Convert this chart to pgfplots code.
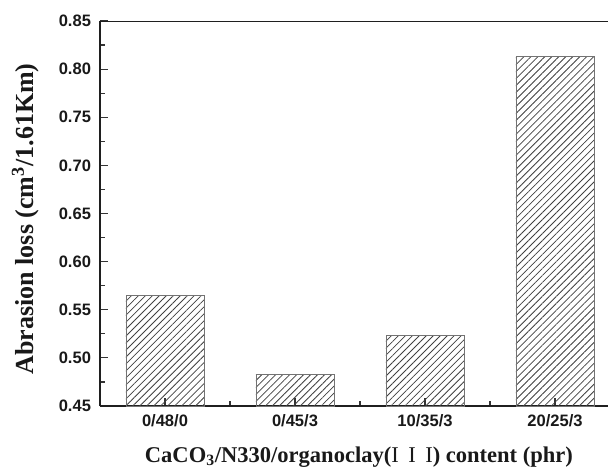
\documentclass[border=0pt]{standalone}
\usepackage{fontspec}
\setmainfont{Liberation Serif}
\setsansfont{Liberation Sans}
\usepackage{pgfplots}
\pgfplotsset{compat=1.18}
\usetikzlibrary{patterns.meta}
\begin{document}
\begin{tikzpicture}
\begin{axis}[
  at={(0,0)}, anchor=south west,
  scale only axis,
  width=390pt, height=288.75pt,
  xmin=-0.5, xmax=3.5,
  ymin=0.45, ymax=0.85,
  axis lines*=left,
  ybar, bar width=0.6,
  xtick={0,1,2,3},
  xticklabels={0/48/0,0/45/3,10/35/3,20/25/3},
  minor xtick={0.5,1.5,2.5},
  ytick={0.45,0.50,...,0.86},
  minor y tick num=1,
  tick align=inside,
  major tick length=6pt, minor tick length=3.8pt,
  axis line style={line width=1.1pt, black!88},
  every tick/.style={line width=0.9pt, black!80},
  /pgf/number format/assume math mode=true,
  /pgf/number format/fixed, /pgf/number format/fixed zerofill,
  /pgf/number format/precision=2,
  tick label style={font=\fontsize{12.4}{14}\selectfont\sffamily\bfseries, black!90},
  yticklabel style={xshift=-3.25pt},
  xticklabel style={yshift=-3pt},
  every axis x label/.style={at={(axis description cs:0.498,-0.1455)}, anchor=base,
    font=\fontsize{16.9}{19}\selectfont\bfseries, black!90},
  every axis y label/.style={at={(axis description cs:-0.127,0.486)}, anchor=base, rotate=90,
    font=\fontsize{19.5}{22}\selectfont\bfseries, black!90},
  xlabel={CaCO\textsubscript{3}/N330/organoclay({\mdseries I\hspace{0.42em}I\hspace{0.42em}I}) content (phr)},
  ylabel={Abrasion loss (cm\textsuperscript{3}/1.61Km)},
]
\addplot[draw=black!55, line width=0.6pt,
  pattern={Lines[angle=45,distance=3.7pt,line width=0.6pt]}, pattern color=black!75]
  coordinates {(0,0.565) (1,0.483) (2,0.5235) (3,0.813)};
\draw[line width=1.1pt, black!88] (rel axis cs:0,1) -- (rel axis cs:1,1);
\end{axis}
\pgfresetboundingbox
\useasboundingbox (-75pt,-47.25pt) rectangle (381pt,304.5pt);
\end{tikzpicture}
\end{document}
